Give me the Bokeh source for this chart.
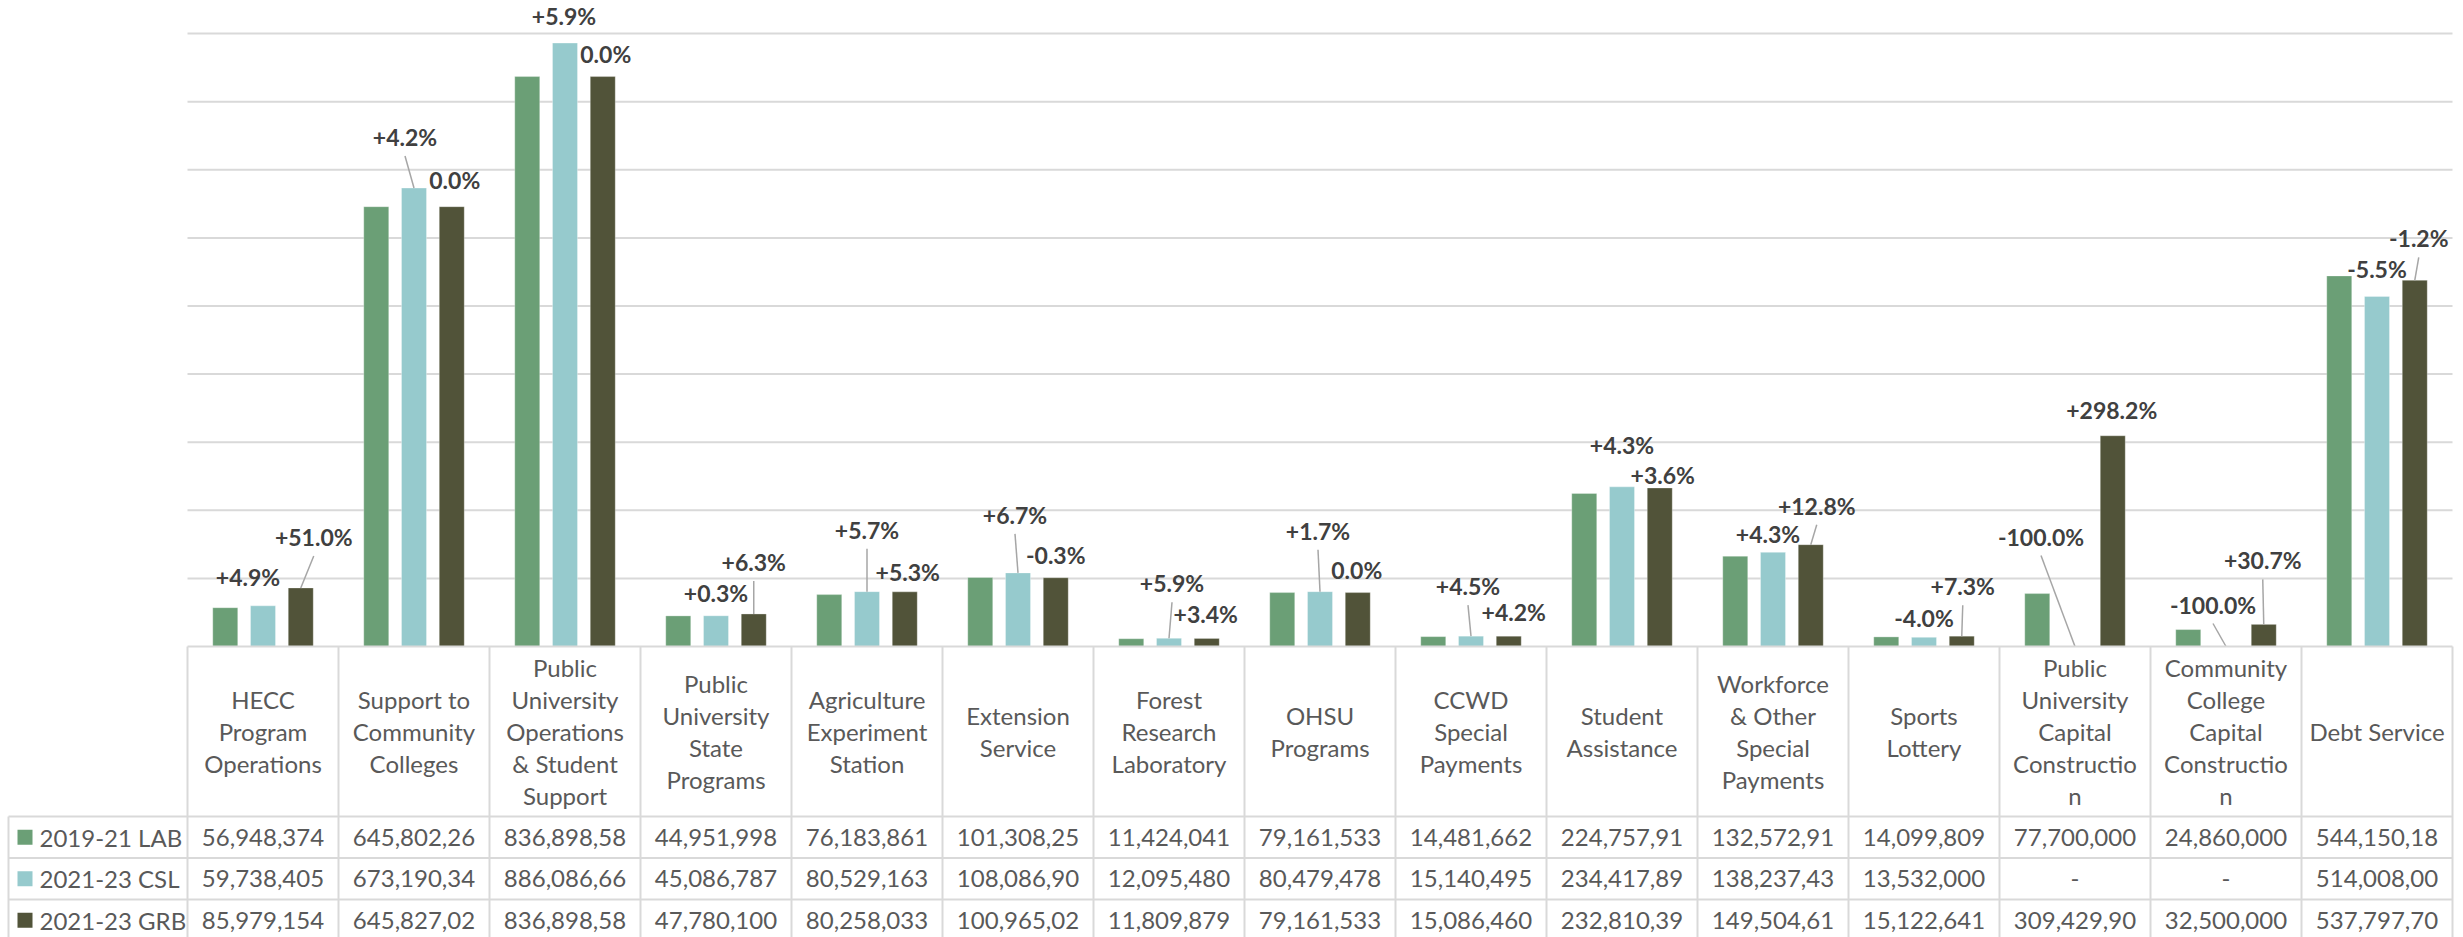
from bokeh.plotting import figure
from bokeh.models import Range1d
from bokeh.embed import file_html
from bokeh.resources import INLINE
from bokeh.core.properties import value

# ---------------- data ----------------
categories = [
    "HECC\nProgram\nOperations",
    "Support to\nCommunity\nColleges",
    "Public\nUniversity\nOperations\n& Student\nSupport",
    "Public\nUniversity\nState\nPrograms",
    "Agriculture\nExperiment\nStation",
    "Extension\nService",
    "Forest\nResearch\nLaboratory",
    "OHSU\nPrograms",
    "CCWD\nSpecial\nPayments",
    "Student\nAssistance",
    "Workforce\n& Other\nSpecial\nPayments",
    "Sports\nLottery",
    "Public\nUniversity\nCapital\nConstructio\nn",
    "Community\nCollege\nCapital\nConstructio\nn",
    "Debt Service",
]
series_names = ["2019-21 LAB", "2021-23 CSL", "2021-23 GRB"]
lab_2019_21 = [56948374, 645802260, 836898580, 44951998, 76183861, 101308250, 11424041,
               79161533, 14481662, 224757910, 132572910, 14099809, 77700000, 24860000, 544150180]
csl_2021_23 = [59738405, 673190340, 886086660, 45086787, 80529163, 108086900, 12095480,
               80479478, 15140495, 234417890, 138237430, 13532000, 0, 0, 514008000]
grb_2021_23 = [85979154, 645827020, 836898580, 47780100, 80258033, 100965020, 11809879,
               79161533, 15086460, 232810390, 149504610, 15122641, 309429900, 32500000, 537797700]
csl_change_labels = ["+4.9%", "+4.2%", "+5.9%", "+0.3%", "+5.7%", "+6.7%", "+5.9%", "+1.7%",
                     "+4.5%", "+4.3%", "+4.3%", "-4.0%", "-100.0%", "-100.0%", "-5.5%"]
grb_change_labels = ["+51.0%", "0.0%", "0.0%", "+6.3%", "+5.3%", "-0.3%", "+3.4%", "0.0%",
                     "+4.2%", "+3.6%", "+12.8%", "+7.3%", "+298.2%", "+30.7%", "-1.2%"]
gridline_values = [100e6, 200e6, 300e6, 400e6, 500e6, 600e6, 700e6, 800e6, 900e6]

# ---------------- layout / style ----------------
W, H = 2463, 937
COL_PX = 151.0          # width of one category column
LEFT_PX = 187.0         # x of first category column
BASE_PX = 646.0         # y of the zero line
PX_PER_DOLLAR = 0.681e-6
HDR_BOTTOM = 816.0
ROW_H = 41.5
BAR_W = 25.0 / COL_PX
OFFSETS = [-0.25, 0.0, 0.25]
COLORS = ["#6b9f76", "#96cacd", "#515339"]
FONT = value("Lato")
GRID_C = "#d9d9d9"
TXT_C = "#595959"
LBL_C = "#404040"

# label placement (pixels from the bar top centre) as the labels were placed
csl_dx = [-15, -9, -1, 0, 0, -3, 3, -2, -3, 0, -5, 0, -34, -13, 0]
csl_dy = [29, 51, 27, 23, 62, 58, 55, 61, 50, 42, 18, 19, 110, 42, 27]
csl_leader = [0, 1, 0, 0, 1, 1, 1, 1, 1, 0, 0, 0, 1, 1, 0]
grb_dx = [13, 3, 3, 0, 3, 0, -1, -1, 5, 3, 6, 1, -1, -1, 4]
grb_dy = [51, 27, 23, 52, 20, 23, 24, 23, 24, 13, 39, 50, 26, 64, 42]
grb_leader = [1, 0, 0, 1, 0, 0, 0, 0, 0, 0, 1, 1, 0, 1, 1]

n = len(categories)
p = figure(width=W, height=H,
           x_range=Range1d(-LEFT_PX / COL_PX, (W - LEFT_PX) / COL_PX),
           y_range=Range1d(-(H - BASE_PX) / PX_PER_DOLLAR, BASE_PX / PX_PER_DOLLAR),
           output_backend="svg", toolbar_location=None,
           x_axis_location=None, y_axis_location=None, min_border=0,
           background_fill_color="white", border_fill_color="white")
p.outline_line_color = None
p.grid.visible = False
p.extra_x_ranges = {"px": Range1d(0, W)}
p.extra_y_ranges = {"px": Range1d(H, 0)}

# gridlines
p.segment(x0=[0] * len(gridline_values), x1=[n] * len(gridline_values),
          y0=gridline_values, y1=gridline_values, line_color=GRID_C, line_width=2)

# bars
all_series = [lab_2019_21, csl_2021_23, grb_2021_23]
for vals, off, col in zip(all_series, OFFSETS, COLORS):
    p.vbar(x=[i + 0.5 + off for i in range(n)], top=vals, bottom=0, width=BAR_W,
           fill_color=col, line_color="white", line_alpha=0.3, line_width=1)

# change labels with leader lines
for vals, off, labels, dxs, dys, leads in [
        (csl_2021_23, OFFSETS[1], csl_change_labels, csl_dx, csl_dy, csl_leader),
        (grb_2021_23, OFFSETS[2], grb_change_labels, grb_dx, grb_dy, grb_leader)]:
    bx = [i + 0.5 + off for i in range(n)]
    lx = [b + dx / COL_PX for b, dx in zip(bx, dxs)]
    ly = [v + dy / PX_PER_DOLLAR for v, dy in zip(vals, dys)]
    idx = [i for i in range(n) if leads[i]]
    p.segment(x0=[lx[i] for i in idx], y0=[vals[i] + (dys[i] - 19) / PX_PER_DOLLAR for i in idx],
              x1=[bx[i] for i in idx], y1=[vals[i] for i in idx],
              line_color="#a6a6a6", line_width=1.5)
    p.text(x=lx, y=ly, text=labels, text_align="center", text_baseline="middle",
           text_font=FONT, text_font_style="bold", text_font_size="23px", text_color=LBL_C)

# ---------------- data table ----------------
table_right = LEFT_PX + n * COL_PX
row_lines = [HDR_BOTTOM + ROW_H * r for r in range(3)]
p.segment(x0=[LEFT_PX] + [8] * 3, x1=[table_right] * 4,
          y0=[BASE_PX] + row_lines, y1=[BASE_PX] + row_lines,
          x_range_name="px", y_range_name="px", line_color=GRID_C, line_width=2)
p.segment(x0=list(range(n + 1)), x1=list(range(n + 1)),
          y0=[BASE_PX] * (n + 1), y1=[H + 20] * (n + 1),
          y_range_name="px", line_color=GRID_C, line_width=2)
p.segment(x0=[8], x1=[8], y0=[HDR_BOTTOM], y1=[H + 20],
          x_range_name="px", y_range_name="px", line_color=GRID_C, line_width=2)

p.text(x=[i + 0.5 for i in range(n)], y=[(BASE_PX + HDR_BOTTOM) / 2] * n, text=categories,
       y_range_name="px", text_align="center", text_baseline="middle",
       text_font=FONT, text_font_size="24px", text_color=TXT_C, text_line_height=1.11)


def fmt(v):
    return f"{v:,}"[:10] if v else "-"


for r, vals in enumerate(all_series):
    yc = HDR_BOTTOM + ROW_H * (r + 0.5)
    p.text(x=[i + 0.5 for i in range(n)], y=[yc] * n, text=[fmt(v) for v in vals],
           y_range_name="px", text_align="center", text_baseline="middle",
           text_font=FONT, text_font_size="24px", text_color=TXT_C)

legend_y = [HDR_BOTTOM + ROW_H * (r + 0.5) for r in range(3)]
p.rect(x=[24.5] * 3, y=legend_y, width=15, height=15, fill_color=COLORS, line_color=None,
       x_range_name="px", y_range_name="px")
p.text(x=[39] * 3, y=legend_y, text=series_names, x_range_name="px", y_range_name="px",
       text_align="left", text_baseline="middle", text_font=FONT, text_font_size="24px",
       text_color=TXT_C)

open("out.html", "w").write(file_html(p, INLINE))
